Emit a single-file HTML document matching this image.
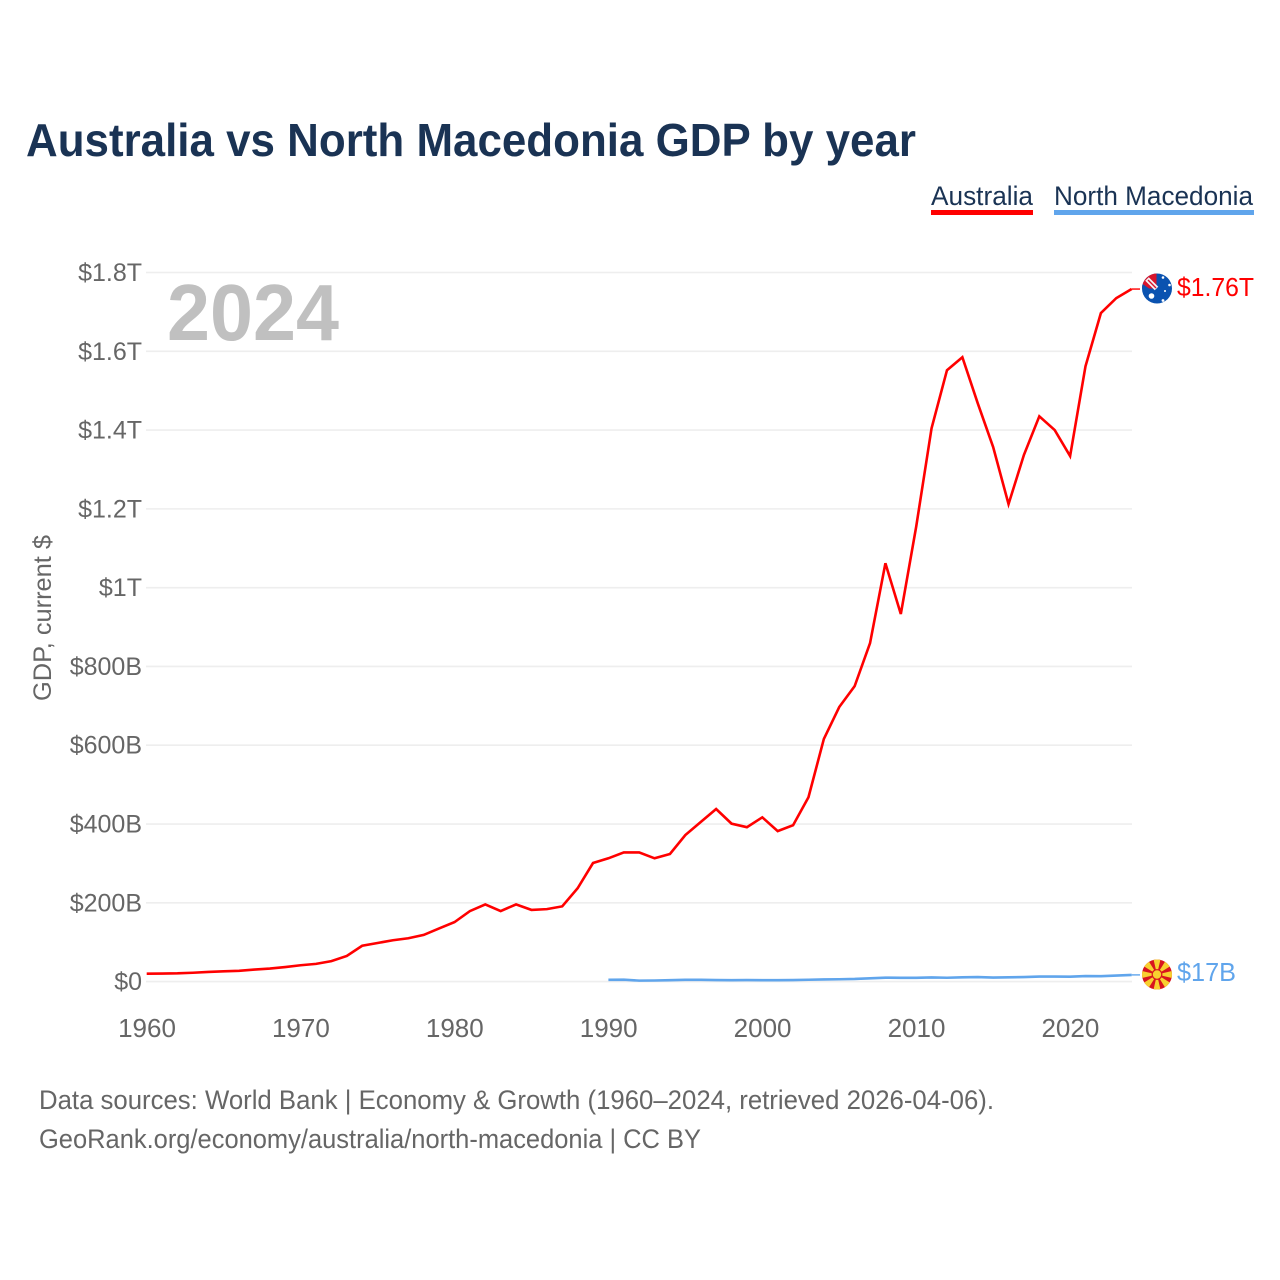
<!DOCTYPE html>
<html lang="en">
<head>
<meta charset="utf-8">
<title>Australia vs North Macedonia GDP by year</title>
<style>
html,body{margin:0;padding:0;background:#fff}
svg{display:block}
text{font-family:"Liberation Sans",sans-serif}
</style>
</head>
<body>
<svg id="chart" xmlns="http://www.w3.org/2000/svg" width="1280" height="1280" viewBox="0 0 1280 1280">
  <defs>
    <clipPath id="flag-clip-au"><circle cx="1157" cy="288.5" r="15"/></clipPath>
    <clipPath id="flag-clip-mk"><circle cx="1157" cy="974.5" r="15"/></clipPath>
  </defs>
  <rect width="1280" height="1280" fill="#fff"/>
  <text x="26" y="156" font-size="46" font-weight="700" fill="#1a3354" textLength="890" lengthAdjust="spacingAndGlyphs">Australia vs North Macedonia GDP by year</text>

  <g>
    <text x="931" y="205" font-size="27" fill="#1a3354" textLength="102" lengthAdjust="spacingAndGlyphs">Australia</text>
    <rect x="931" y="210" width="102" height="5" fill="#ff0000"/>
  </g>
  <g>
    <text x="1054" y="205" font-size="27" fill="#1a3354" textLength="199" lengthAdjust="spacingAndGlyphs">North Macedonia</text>
    <rect x="1054" y="210" width="200" height="5" fill="#60a5ec"/>
  </g>

  <g id="grid"></g>
  <g id="y-ticks"></g>
  <g id="x-ticks"></g>

  <text x="167" y="340" font-size="80" font-weight="700" fill="#c0c0c0" textLength="172" lengthAdjust="spacingAndGlyphs">2024</text>
  <text transform="translate(51,701) rotate(-90)" font-size="25" fill="#666" textLength="166" lengthAdjust="spacingAndGlyphs">GDP, current $</text>

  <path id="line-australia" fill="none" stroke="#ff0000" stroke-width="2.6" stroke-linejoin="miter"/>
  <path id="line-macedonia" fill="none" stroke="#60a5ec" stroke-width="2.6"/>
  <path id="connector-australia" fill="none" stroke="#ff0000" stroke-width="1.4"/>
  <path id="connector-macedonia" fill="none" stroke="#60a5ec" stroke-width="1.4"/>

  <g clip-path="url(#flag-clip-au)">
    <rect x="1142" y="273" width="31" height="31" fill="#0a52b0"/>
    <rect x="1142" y="273" width="14.5" height="15.5" fill="#d8142b"/>
    <path d="M1147 279 L1156.5 288.5" stroke="#f4f0f2" stroke-width="5"/>
    <path d="M1148 280 L1156 288" stroke="#d8142b" stroke-width="1.4"/>
    <path d="M1142 283.5 L1149 288.5 L1142 288.5 Z" fill="#0a52b0"/>
    <path d="M1151 273 L1156.5 273 L1156.5 280 Z" fill="#f4f0f2" opacity="0"/>
    <circle cx="1151.5" cy="296" r="2.8" fill="#fff"/>
    <circle cx="1163" cy="277.5" r="1.3" fill="#fff"/>
    <circle cx="1169.5" cy="285" r="1.3" fill="#fff"/>
    <circle cx="1165" cy="291" r="1" fill="#fff"/>
    <circle cx="1163" cy="300.5" r="1.4" fill="#fff"/>
  </g>
  <g clip-path="url(#flag-clip-mk)">
    <rect x="1142" y="959" width="31" height="31" fill="#d8141e"/>
    <g id="mk-rays" fill="#f8d030"></g>
    <circle cx="1157" cy="974.5" r="5.4" fill="#d8141e"/>
    <circle cx="1157" cy="974.5" r="4.2" fill="#f8d030"/>
  </g>

  <text x="1177" y="296" font-size="26" fill="#ff0000" textLength="77" lengthAdjust="spacingAndGlyphs">$1.76T</text>
  <text x="1177" y="981" font-size="26" fill="#60a5ec" textLength="59" lengthAdjust="spacingAndGlyphs">$17B</text>

  <text x="39" y="1109" font-size="27" fill="#666" textLength="955" lengthAdjust="spacingAndGlyphs">Data sources: World Bank | Economy &amp; Growth (1960–2024, retrieved 2026-04-06).</text>
  <text x="39" y="1148" font-size="27" fill="#666" textLength="662" lengthAdjust="spacingAndGlyphs">GeoRank.org/economy/australia/north-macedonia | CC BY</text>
</svg>
<script>
const yTickValues = [0, 200, 400, 600, 800, 1000, 1200, 1400, 1600, 1800];
const yTickLabels = ['$0', '$200B', '$400B', '$600B', '$800B', '$1T', '$1.2T', '$1.4T', '$1.6T', '$1.8T'];
const xTickYears = [1960, 1970, 1980, 1990, 2000, 2010, 2020];
const australiaStartYear = 1960;
const australiaGdp = [20, 20.5, 21, 22.5, 24.5, 26, 27.5, 30.5, 33, 37, 41.5, 45, 52, 65, 91, 98, 105, 110, 118.5, 135, 151, 179, 196, 179, 196, 182, 184, 191, 237, 301, 313, 328, 328, 313, 324, 372, 405, 438, 401, 392, 417, 382, 397, 468, 616, 697, 750, 859, 1062, 933, 1155, 1405, 1552, 1585, 1468, 1357, 1212, 1337, 1435, 1400, 1334, 1562, 1697, 1735, 1758];
const macedoniaStartYear = 1990;
const macedoniaGdp = [4.5, 4.8, 2.5, 2.8, 3.6, 4.5, 4.5, 3.8, 3.7, 3.8, 3.7, 3.5, 3.9, 4.7, 5.6, 6, 6.7, 8.3, 10, 9.6, 9.5, 10.5, 9.8, 10.9, 11.4, 10.2, 10.8, 11.4, 12.8, 12.7, 12.4, 14, 13.8, 15.2, 17];

const SVG_NS = 'http://www.w3.org/2000/svg';
const xScale = function (year) { return 146.7 + (year - 1960) * 15.39; };
const yScale = function (value) { return 981.6 - value * 0.39394; };

function pathFrom(startYear, values) {
  return values.map(function (v, i) {
    return (i ? 'L' : 'M') + xScale(startYear + i).toFixed(2) + ' ' + yScale(v).toFixed(2);
  }).join(' ');
}

const grid = document.getElementById('grid');
const yTicks = document.getElementById('y-ticks');
yTickValues.forEach(function (value, i) {
  const line = document.createElementNS(SVG_NS, 'line');
  
  
  line.setAttribute('x1', 146);
  line.setAttribute('x2', 1132);
  line.setAttribute('y1', yScale(value));
  line.setAttribute('y2', yScale(value));
  line.setAttribute('stroke', '#eeeeee');
  line.setAttribute('stroke-width', 1.6);
  grid.appendChild(line);

  const label = document.createElementNS(SVG_NS, 'text');
  
  
  label.setAttribute('x', 142);
  label.setAttribute('y', yScale(value) + 8.5);
  label.setAttribute('text-anchor', 'end');
  label.setAttribute('font-size', 25);
  label.setAttribute('fill', '#666');
  label.textContent = yTickLabels[i];
  yTicks.appendChild(label);
});

const xTicks = document.getElementById('x-ticks');
xTickYears.forEach(function (year) {
  const label = document.createElementNS(SVG_NS, 'text');
  
  
  label.setAttribute('x', xScale(year) + 0.3);
  label.setAttribute('y', 1037);
  label.setAttribute('text-anchor', 'middle');
  label.setAttribute('font-size', 26);
  label.setAttribute('fill', '#666');
  label.textContent = String(year);
  xTicks.appendChild(label);
});

document.getElementById('line-australia').setAttribute('d', pathFrom(australiaStartYear, australiaGdp));
document.getElementById('line-macedonia').setAttribute('d', pathFrom(macedoniaStartYear, macedoniaGdp));

const lastX = xScale(australiaStartYear + australiaGdp.length - 1);
const lastAu = yScale(australiaGdp[australiaGdp.length - 1]);
const lastMk = yScale(macedoniaGdp[macedoniaGdp.length - 1]);
document.getElementById('connector-australia').setAttribute('d', 'M' + lastX + ' ' + lastAu + ' L1140 ' + lastAu);
document.getElementById('connector-macedonia').setAttribute('d', 'M' + lastX + ' ' + lastMk + ' L1140 ' + lastMk);

const rays = document.getElementById('mk-rays');
for (let k = 0; k < 8; k++) {
  const a = k * Math.PI / 4;
  const ray = document.createElementNS(SVG_NS, 'polygon');
  
  
  const pts = [[0, 0], [20, -4.6], [20, 4.6]].map(function (p) {
    const x = 1157 + p[0] * Math.cos(a) - p[1] * Math.sin(a);
    const y = 974.5 + p[0] * Math.sin(a) + p[1] * Math.cos(a);
    return x.toFixed(2) + ',' + y.toFixed(2);
  });
  ray.setAttribute('points', pts.join(' '));
  rays.appendChild(ray);
}
</script>
</body>
</html>
